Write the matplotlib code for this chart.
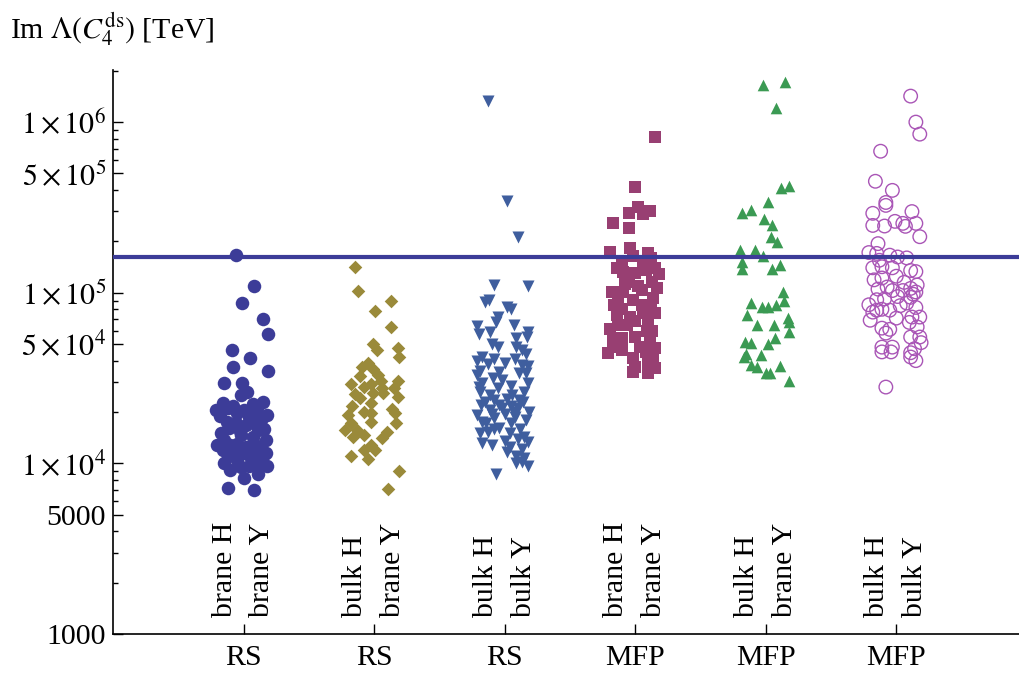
import matplotlib
matplotlib.use("Agg")
import matplotlib.pyplot as plt
from matplotlib.ticker import FixedLocator, NullFormatter

plt.rcParams['font.family'] = ['Liberation Serif', 'DejaVu Serif']
plt.rcParams['mathtext.fontset'] = 'stix'

# ---------------- data ----------------
groups = ["RS", "RS", "RS", "MFP", "MFP", "MFP"]
sub_labels = [("brane H", "brane Y"), ("bulk H", "brane Y"), ("bulk H", "bulk Y"),
              ("brane H", "brane Y"), ("bulk H", "brane Y"), ("bulk H", "bulk Y")]
bound = 1.63e5

g1_dx = [-0.06, 0.08, -0.01, 0.15, 0.19, -0.09, 0.05, -0.08, 0.19, -0.15, -0.01, 0.03,
         -0.16, -0.08, 0.07, 0.15, -0.18, -0.05, 0.04, 0.18, -0.06, 0.02, 0.11, -0.15,
         -0.02, 0.07, 0.17, -0.16, -0.08, 0.02, 0.09, 0.15, -0.15, -0.05, 0.04, 0.11,
         0.11, 0.0, -0.12, 0.08, -0.11, 0.13, -0.2, -0.1, 0.05, -0.1, 0.18, -0.02, -0.21, 0.09,
         -0.12, 0.0, 0.1, -0.13, 0.06, 0.16, -0.03, -0.17, 0.08, -0.05, 0.13, -0.12, 0.0, 0.17,
         -0.02, 0.07]
g1_v = [1.67e5, 1.10e5, 8.7e4, 7.0e4, 5.7e4, 4.6e4, 4.15e4, 3.65e4, 3.5e4, 2.96e4, 2.96e4, 2.62e4,
        2.25e4, 2.16e4, 2.22e4, 2.28e4, 1.89e4, 1.97e4, 1.86e4, 1.92e4, 1.72e4, 1.67e4, 1.56e4, 1.37e4,
        1.46e4, 1.42e4, 1.37e4, 1.19e4, 1.16e4, 1.24e4, 1.16e4, 1.11e4, 1.01e4, 1.04e4, 9.7e3, 1.01e4,
        8.7e3, 8.2e3, 7.2e3, 7.0e3, 1.61e4, 1.79e4, 1.28e4, 1.28e4, 1.11e4, 9.1e3, 9.7e3, 2.51e4, 2.05e4, 2.0e4,
        2.1e4, 2.05e4, 2.1e4, 1.75e4, 1.75e4, 1.6e4, 1.55e4, 1.5e4, 1.3e4, 1.3e4, 1.25e4, 1.1e4, 1.15e4, 1.15e4,
        9.5e3, 1.03e4]

g2_dx = [-0.145, -0.12, 0.13, 0.01, 0.13, -0.01, 0.18, 0.02, 0.19, -0.05, -0.09, -0.01, -0.11,
         0.03, 0.05, 0.18, -0.18, -0.02, -0.08, 0.06, 0.15, -0.15, -0.01, 0.18, -0.11, 0.07,
         -0.02, -0.17, 0.14, -0.08, -0.02, 0.16, -0.2, -0.02, -0.18, 0.17, -0.13, 0.1, -0.22,
         -0.08, 0.06, -0.16, -0.02, -0.08, 0.01, -0.18, -0.05, 0.19, 0.11]
g2_v = [1.42e5, 1.03e5, 8.9e4, 7.8e4, 6.3e4, 5.0e4, 4.75e4, 4.6e4, 4.2e4, 3.87e4, 3.67e4, 3.57e4, 3.25e4,
        3.3e4, 3.04e4, 3.04e4, 2.92e4, 2.92e4, 2.8e4, 2.76e4, 2.76e4, 2.55e4, 2.57e4, 2.44e4, 2.42e4, 2.57e4,
        2.25e4, 2.16e4, 2.08e4, 2.0e4, 1.98e4, 1.98e4, 1.92e4, 1.74e4, 1.72e4, 1.72e4, 1.56e4, 1.52e4, 1.56e4,
        1.46e4, 1.4e4, 1.42e4, 1.28e4, 1.19e4, 1.19e4, 1.1e4, 1.06e4, 9.0e3, 7.1e3]

g3_dx = [-0.13, 0.02, 0.10, -0.08, 0.18, -0.12, -0.15, 0.02, 0.05, -0.05, -0.07, -0.21, 0.07, -0.11,
         0.18, -0.2, 0.09, 0.17, -0.05, 0.09, -0.17, -0.21, -0.08, 0.08, 0.16, 0.0, 0.13, 0.18, -0.19,
         -0.04, 0.11, -0.21, 0.16, -0.09, -0.02, -0.17, 0.18, -0.05, -0.19, 0.15, -0.11, 0.06, -0.08,
         0.02, 0.11, -0.18, -0.04, 0.05, -0.11, 0.10, 0.19, -0.21, 0.0, -0.08, 0.08, -0.14, 0.05, -0.04,
         -0.19, -0.13, 0.04, 0.15, -0.17, -0.1, 0.18, 0.13, 0.02, 0.09, 0.15, 0.09, 0.18, -0.07,
         -0.15, 0.14, -0.02, 0.16, -0.1, 0.07, -0.17, 0.12, -0.08, 0.0, 0.1, -0.2, 0.05, -0.13,
         0.13, -0.1, 0.04, 0.13]
g3_v = [1.33e6, 3.43e5, 2.13e5, 1.11e5, 1.10e5, 9.1e4, 8.8e4, 8.2e4, 8.0e4, 7.2e4, 6.7e4, 6.4e4, 6.5e4, 5.9e4,
        5.9e4, 5.7e4, 5.4e4, 5.5e4, 4.8e4, 4.8e4, 4.2e4, 4.0e4, 4.1e4, 4.1e4, 4.4e4, 3.87e4, 3.77e4, 3.7e4, 3.5e4,
        3.43e4, 3.4e4, 3.3e4, 3.4e4, 3.16e4, 3.1e4, 2.95e4, 2.95e4, 2.76e4, 2.62e4, 2.62e4, 2.51e4, 2.51e4, 2.35e4,
        2.38e4, 2.35e4, 2.19e4, 2.19e4, 2.16e4, 2.05e4, 2.1e4, 1.99e4, 1.92e4, 1.95e4, 1.84e4, 1.86e4, 1.72e4, 1.72e4,
        1.61e4, 1.5e4, 1.52e4, 1.5e4, 1.42e4, 1.31e4, 1.28e4, 1.33e4, 1.22e4, 1.16e4, 1.11e4, 1.08e4, 1.0e4, 9.6e3, 8.7e3,
        2.3e4, 2.3e4, 2.1e4, 1.8e4, 1.95e4, 2.0e4, 1.75e4, 1.6e4, 1.6e4, 1.35e4, 1.38e4, 2.8e4, 2.85e4, 3.8e4,
        4.6e4, 5.0e4, 1.25e4, 1.02e4]

g4_dx = [0.15, 0.0, 0.02, 0.11, -0.05, 0.06, -0.17, -0.05, -0.04, -0.19, 0.1, -0.1, 0.06, -0.09,
         0.08, 0.18, -0.05, 0.13, -0.18, -0.09, 0.05, 0.17, -0.13, -0.02, 0.14, 0.05, -0.14, -0.04,
         0.06, 0.15, -0.06, 0.10, -0.19, 0.09, -0.1, 0.0, -0.17, 0.11, 0.15, -0.17, 0.08, -0.21,
         -0.02, 0.14, 0.0, 0.10, 0.15, -0.02, 0.10,
         -0.02, 0.12, -0.14, 0.0, 0.15, -0.08, 0.02, -0.16, 0.12, -0.1, 0.0, 0.13, -0.13, 0.04,
         -0.1, 0.12]
g4_v = [8.2e5, 4.15e5, 3.16e5, 3.03e5, 2.92e5, 2.9e5, 2.55e5, 2.41e5, 1.84e5, 1.74e5, 1.72e5, 1.5e5, 1.5e5, 1.33e5,
        1.36e5, 1.28e5, 1.16e5, 1.15e5, 1.01e5, 1.01e5, 1.04e5, 1.06e5, 9.1e4, 9.1e4, 9.3e4, 8.5e4, 7.4e4, 7.2e4,
        7.6e4, 7.6e4, 6.5e4, 6.6e4, 6.1e4, 6.0e4, 5.4e4, 5.5e4, 5.3e4, 5.2e4, 4.75e4, 4.8e4, 4.5e4, 4.45e4,
        4.15e4, 4.2e4, 3.67e4, 3.8e4, 3.62e4, 3.43e4, 3.4e4,
        1.65e5, 1.6e5, 1.4e5, 1.3e5, 1.4e5, 1.12e5, 1.1e5, 8.5e4, 8.5e4, 8.0e4, 6.8e4, 6.0e4, 6.5e4, 4.8e4,
        4.6e4, 3.9e4]

g5_dx = [-0.02, 0.15, 0.08, 0.12, 0.18, 0.02, -0.18, -0.11, -0.01, 0.05, 0.04, 0.09, -0.2, -0.08, -0.02,
         -0.18, -0.18, 0.11, 0.05, 0.13, 0.14, -0.11, -0.03, 0.02, 0.08, -0.14, 0.17, -0.07, 0.06, 0.18,
         0.18, -0.16, -0.11, 0.07, 0.02, -0.15, -0.04, -0.17, -0.11, -0.07, 0.11, 0.0, 0.03, 0.18]
g5_v = [1.65e6, 1.72e6, 1.21e6, 4.09e5, 4.2e5, 3.38e5, 2.92e5, 3.07e5, 2.72e5, 2.48e5, 2.13e5, 1.97e5, 1.79e5,
        1.79e5, 1.65e5, 1.52e5, 1.37e5, 1.46e5, 1.37e5, 1.01e5, 8.9e4, 8.7e4, 8.3e4, 8.2e4, 8.5e4, 7.4e4, 7.1e4,
        6.5e4, 6.5e4, 6.7e4, 5.9e4, 5.15e4, 5.1e4, 5.4e4, 5.0e4, 4.4e4, 4.3e4, 4.2e4, 3.77e4, 3.65e4, 3.7e4,
        3.38e4, 3.38e4, 3.04e4]

g6_dx = [0.11, 0.15, 0.18, -0.12, -0.16, -0.03, -0.08, -0.08, -0.18, 0.12, -0.18, -0.09, -0.01, 0.05, 0.07,
         0.15, 0.18, -0.14, -0.21, -0.15, -0.05, 0.01, -0.18, -0.11, -0.03, 0.11, 0.15, -0.17, -0.11, 0.0,
         0.16, -0.07, -0.03, 0.05, 0.11, 0.15, 0.01, 0.11, 0.08, -0.21, -0.15, -0.15, -0.11, -0.05, 0.0,
         -0.2, 0.12, 0.18, 0.10, -0.11, -0.05, 0.16, 0.11, 0.18, 0.19, -0.11, -0.03, -0.11, -0.04, 0.11,
         0.15, 0.11, -0.08,
         -0.14, 0.06, 0.13, -0.09, 0.03, -0.18, 0.15, -0.08, 0.14, -0.13, 0.08]
g6_v = [1.42e6, 1.0e6, 8.5e5, 6.75e5, 4.5e5, 3.98e5, 3.38e5, 3.25e5, 2.92e5, 2.99e5, 2.48e5, 2.46e5, 2.62e5,
        2.55e5, 2.45e5, 2.55e5, 2.13e5, 1.94e5, 1.72e5, 1.70e5, 1.66e5, 1.62e5, 1.40e5, 1.42e5, 1.40e5, 1.35e5,
        1.33e5, 1.19e5, 1.22e5, 1.25e5, 1.11e5, 1.08e5, 1.03e5, 1.03e5, 1.06e5, 1.01e5, 9.5e4, 9.4e4, 8.7e4,
        8.5e4, 9.1e4, 7.9e4, 8.0e4, 7.9e4, 7.1e4, 6.9e4, 7.2e4, 7.2e4, 6.7e4, 6.2e4, 6.1e4, 6.3e4, 5.5e4,
        5.5e4, 5.1e4, 4.8e4, 4.8e4, 4.5e4, 4.5e4, 4.45e4, 4.0e4, 4.2e4, 2.8e4,
        1.05e5, 1.15e5, 9.8e4, 9.2e4, 8.4e4, 7.7e4, 8.2e4, 5.8e4, 4.7e4, 1.55e5, 1.6e5]

ytick_vals = [1000, 5000, 1e4, 5e4, 1e5, 5e5, 1e6]
ytick_labels = ["1000", "5000", r"$1\times10^{4}$", r"$5\times10^{4}$",
                r"$1\times10^{5}$", r"$5\times10^{5}$", r"$1\times10^{6}$"]
yminor_vals = [2000, 3000, 4000, 6000, 7000, 8000, 9000,
               2e4, 3e4, 4e4, 6e4, 7e4, 8e4, 9e4,
               2e5, 3e5, 4e5, 6e5, 7e5, 8e5, 9e5, 2e6]

# ---------------- styles ----------------
series = [
    (g1_dx, g1_v, dict(marker='o', s=95, c='#3c3c98', linewidths=0)),
    (g2_dx, g2_v, dict(marker='D', s=48, c='#9a8a3a', linewidths=0)),
    (g3_dx, g3_v, dict(marker='v', s=75, c='#3f5e9e', linewidths=0)),
    (g4_dx, g4_v, dict(marker='s', s=64, c='#983f72', linewidths=0)),
    (g5_dx, g5_v, dict(marker='^', s=70, c='#3b9a53', linewidths=0)),
    (g6_dx, g6_v, dict(marker='o', s=95, facecolors='none', edgecolors='#a955b6', linewidths=1.0)),
]

fig = plt.figure(figsize=(10.19, 6.75), dpi=100)
ax = fig.add_axes([113 / 1019, 41 / 675, (1019 - 113) / 1019, (634 - 70) / 675])

for i, (dx, v, kw) in enumerate(series):
    xs = [i + 1 + d for d in dx]
    ax.scatter(xs, v, zorder=2, **kw)

ax.axhline(bound, color='#3c3c98', lw=3.0, zorder=4)

ax.set_yscale('log')
ax.set_ylim(1000, 2.02e6)
ax.set_xlim(0, 6.94)

ax.yaxis.set_major_locator(FixedLocator(ytick_vals))
ax.set_yticklabels(ytick_labels)
ax.yaxis.set_minor_locator(FixedLocator(yminor_vals))
ax.yaxis.set_minor_formatter(NullFormatter())

ax.set_xticks(range(1, len(groups) + 1))
ax.set_xticklabels(groups)

for sp in ['top', 'right']:
    ax.spines[sp].set_visible(False)
for sp in ['left', 'bottom']:
    ax.spines[sp].set_linewidth(1.2)

ax.tick_params(axis='both', which='major', direction='in', length=7, width=1.0, labelsize=21.5)
ax.tick_params(axis='both', which='minor', direction='in', length=3.5, width=1.0)
ax.tick_params(axis='x', pad=8)
ax.tick_params(axis='y', pad=5)

for i, (l1, l2) in enumerate(sub_labels):
    ax.text(i + 1 - 0.145, 1260, l1, rotation=90, ha='center', va='bottom', fontsize=21.5)
    ax.text(i + 1 + 0.145, 1260, l2, rotation=90, ha='center', va='bottom', fontsize=21.5)

fig.text(10 / 1019, 1 - 38 / 675, r"Im $\Lambda(C_4^{\mathrm{ds}})$ [TeV]", fontsize=21.5,
         ha='left', va='baseline')

fig.savefig("out.png", dpi=100)
